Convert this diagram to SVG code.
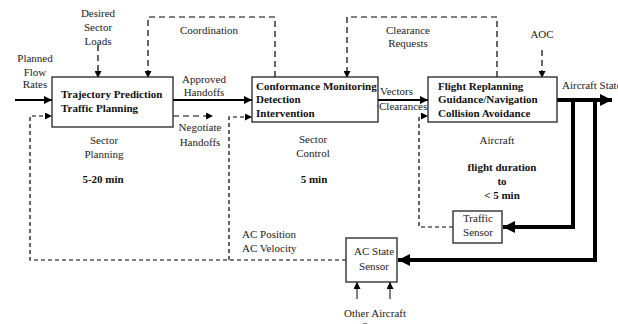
<svg xmlns="http://www.w3.org/2000/svg" width="618" height="324" viewBox="0 0 618 324">
<style>
text{font-family:"Liberation Serif","Times New Roman",serif;font-size:11px;fill:#222}
.b{font-weight:bold;font-size:11px;fill:#111}
.m{text-anchor:middle}
.box{fill:#fff;stroke:#222;stroke-width:1.3}
.s{fill:none;stroke:#000;stroke-width:1.8}
.t{fill:none;stroke:#000;stroke-width:4}
.d{fill:none;stroke:#000;stroke-width:1.2;stroke-dasharray:6,4}
.d2{fill:none;stroke:#000;stroke-width:1.2;stroke-dasharray:4,3}
.thin{fill:none;stroke:#000;stroke-width:1}
</style>
<defs>
<marker id="a" viewBox="0 0 10 10" refX="10" refY="5" markerWidth="10" markerHeight="8" markerUnits="userSpaceOnUse" orient="auto"><path d="M0,0 L10,5 L0,10 z" fill="#000"/></marker>
<marker id="as" viewBox="0 0 10 10" refX="10" refY="5" markerWidth="7" markerHeight="7" markerUnits="userSpaceOnUse" orient="auto"><path d="M0,0 L10,5 L0,10 z" fill="#000"/></marker>
<marker id="at" viewBox="0 0 10 10" refX="10" refY="5" markerWidth="14" markerHeight="12" markerUnits="userSpaceOnUse" orient="auto"><path d="M0,0 L10,5 L0,10 z" fill="#000"/></marker>
</defs>
<g id="connectors">
<path class="s" d="M15,100 H52" marker-end="url(#a)"/>
<path class="s" d="M173,100 H252" marker-end="url(#a)"/>
<path class="s" d="M378,100 H428" marker-end="url(#a)"/>
<path class="t" d="M557,100 H612" marker-end="url(#at)"/>
<path class="t" d="M573,100 V227 H503" marker-end="url(#at)"/>
<path class="t" d="M595,100 V260 H398" marker-end="url(#at)"/>
<path class="d" d="M98,45 V78" marker-end="url(#as)"/>
<path class="d" d="M275,77 V17 H148 V78" marker-end="url(#as)"/>
<path class="d" d="M497,77 V17 H347 V78" marker-end="url(#as)"/>
<path class="d" d="M542,50 V78" marker-end="url(#as)"/>
<path class="d" d="M173,116 H213" marker-end="url(#as)"/>
<path class="d2" d="M346,260 H30 V116 H52" marker-end="url(#as)"/>
<path class="d2" d="M229,260 V117 H252" marker-end="url(#as)"/>
<path class="d2" d="M453,227 H419 V116 H428" marker-end="url(#as)"/>
<path class="thin" d="M357,299 V282" marker-end="url(#as)"/>
<path class="thin" d="M390,299 V282" marker-end="url(#as)"/>
</g>
<g id="sector-planning">
<rect class="box" x="52" y="77" width="121" height="50"/>
<text class="b" x="61" y="98">Trajectory Prediction</text>
<text class="b" x="61" y="112">Traffic Planning</text>
</g>
<g id="sector-control">
<rect class="box" x="252" y="77" width="126" height="45"/>
<text class="b" x="256" y="90">Conformance Monitoring</text>
<text class="b" x="256" y="103">Detection</text>
<text class="b" x="256" y="117">Intervention</text>
</g>
<g id="aircraft">
<rect class="box" x="428" y="77" width="129" height="45"/>
<text class="b" x="438" y="90">Flight Replanning</text>
<text class="b" x="438" y="103">Guidance/Navigation</text>
<text class="b" x="438" y="117">Collision Avoidance</text>
</g>
<g id="traffic-sensor">
<rect class="box" x="453" y="211" width="49" height="32"/>
<text class="m" x="478" y="222">Traffic</text>
<text class="m" x="478" y="236">Sensor</text>
</g>
<g id="ac-state-sensor">
<rect class="box" x="346" y="238" width="51" height="44"/>
<text class="m" x="374" y="255">AC State</text>
<text class="m" x="374" y="270">Sensor</text>
</g>
<g id="labels">
<text class="m" x="98" y="17">Desired</text>
<text class="m" x="98" y="31">Sector</text>
<text class="m" x="98" y="45">Loads</text>
<text class="m" x="35" y="62">Planned</text>
<text class="m" x="35" y="76">Flow</text>
<text class="m" x="35" y="88">Rates</text>
<text class="m" x="209" y="34">Coordination</text>
<text class="m" x="204" y="83">Approved</text>
<text class="m" x="204" y="96">Handoffs</text>
<text class="m" x="200" y="131">Negotiate</text>
<text class="m" x="200" y="146">Handoffs</text>
<text class="m" x="104" y="144">Sector</text>
<text class="m" x="104" y="158">Planning</text>
<text class="b m" x="103" y="183">5-20 min</text>
<text class="m" x="408" y="34">Clearance</text>
<text class="m" x="408" y="47">Requests</text>
<text x="380" y="95">Vectors</text>
<text x="379" y="110">Clearances</text>
<text class="m" x="313" y="143">Sector</text>
<text class="m" x="313" y="157">Control</text>
<text class="b m" x="314" y="183">5 min</text>
<text class="m" x="542" y="38">AOC</text>
<text x="562" y="89">Aircraft State</text>
<text class="m" x="497" y="144">Aircraft</text>
<text class="b m" x="502" y="171">flight duration</text>
<text class="b m" x="502" y="185">to</text>
<text class="b m" x="502" y="199">&lt; 5 min</text>
<text x="242" y="238">AC Position</text>
<text x="242" y="252">AC Velocity</text>
<text class="m" x="375" y="317">Other Aircraft</text>
<text class="m" x="375" y="330">States</text>
</g>
</svg>
